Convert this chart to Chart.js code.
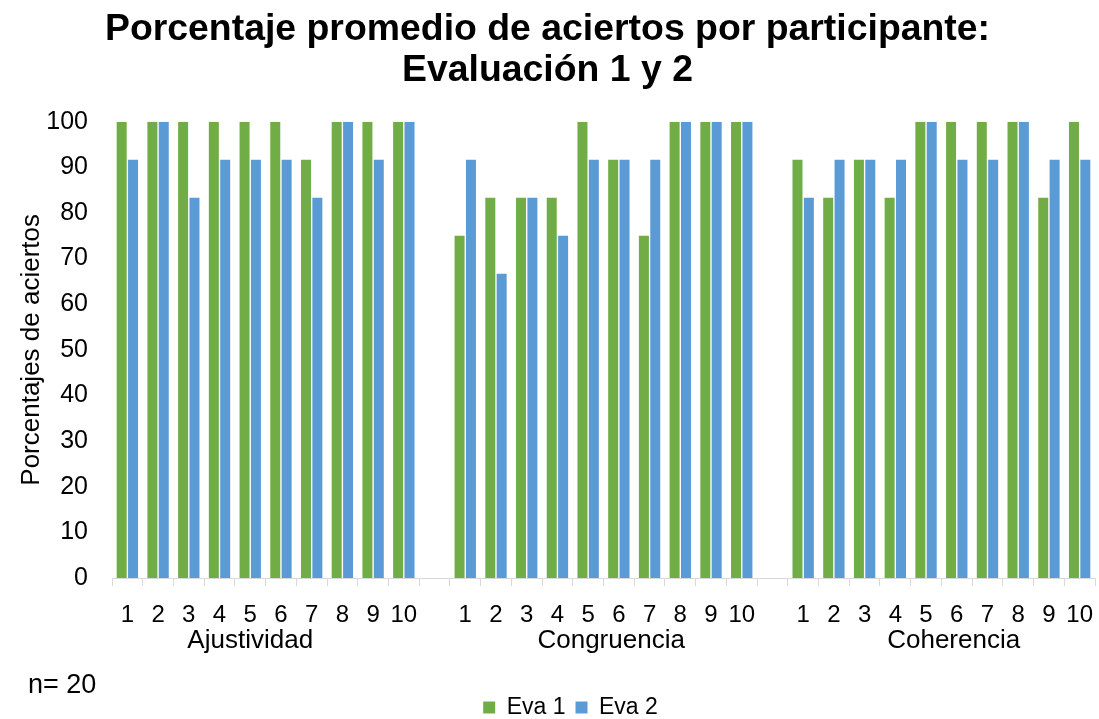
<!DOCTYPE html>
<html>
<head>
<meta charset="utf-8">
<script src="https://cdn.jsdelivr.net/npm/chart.js@4.4.0/dist/chart.umd.min.js"></script>
<style>
html,body{margin:0;padding:0;background:#fff;}
#wrap{width:1099px;height:719px;}
</style>
</head>
<body>
<div id="wrap"><canvas id="c" width="1099" height="719"></canvas></div>
<script>
// ---- data ----
const groups = ['Ajustividad', 'Congruencia', 'Coherencia'];
const participants = ['1', '2', '3', '4', '5', '6', '7', '8', '9', '10'];
const seriesNames = ['Eva 1', 'Eva 2'];
const ajustividadEva1 = [100, 100, 100, 100, 100, 100, 91.67, 100, 100, 100];
const ajustividadEva2 = [91.67, 100, 83.33, 91.67, 91.67, 91.67, 83.33, 100, 91.67, 100];
const congruenciaEva1 = [75, 83.33, 83.33, 83.33, 100, 91.67, 75, 100, 100, 100];
const congruenciaEva2 = [91.67, 66.67, 83.33, 75, 91.67, 91.67, 91.67, 100, 100, 100];
const coherenciaEva1 = [91.67, 83.33, 91.67, 83.33, 100, 100, 100, 100, 83.33, 100];
const coherenciaEva2 = [83.33, 91.67, 91.67, 91.67, 100, 91.67, 91.67, 100, 91.67, 91.67];
const yTicks = [0, 10, 20, 30, 40, 50, 60, 70, 80, 90, 100];
const titleLines = ['Porcentaje promedio de aciertos por participante:', 'Evaluación 1 y 2'];
const yTitle = 'Porcentajes de aciertos';
const note = 'n= 20';

// ---- build category table (blank category between groups) ----
const eva1Groups = [ajustividadEva1, congruenciaEva1, coherenciaEva1];
const eva2Groups = [ajustividadEva2, congruenciaEva2, coherenciaEva2];
const labels = [], eva1 = [], eva2 = [], groupRanges = [];
groups.forEach((g, gi) => {
  if (gi > 0) { labels.push(''); eva1.push(null); eva2.push(null); }
  const start = labels.length;
  participants.forEach((p, pi) => {
    labels.push(p);
    eva1.push(eva1Groups[gi][pi]);
    eva2.push(eva2Groups[gi][pi]);
  });
  groupRanges.push({ name: g, start: start, end: labels.length - 1 });
});

const F = "'Liberation Sans', Arial, sans-serif";
const GREEN = '#70ad47';
const BLUE = '#5b9bd5';
const AXIS = '#d9d9d9';
// shift of each group label from its span centre, in categories (as in the original layout)
const groupLabelShift = [-0.5, 0.25, 0.4];

const extrasPlugin = {
  id: 'extras',
  afterLayout(chart) {
    const lg = chart.legend;
    if (lg) { lg.left += 23; lg.right += 23; lg.top += 10; lg.bottom += 10; }
  },
  afterDraw(chart) {
    const ctx = chart.ctx;
    const xs = chart.scales.x;
    ctx.save();
    ctx.fillStyle = '#000';
    ctx.font = '26px ' + F;
    ctx.textAlign = 'center';
    ctx.textBaseline = 'middle';
    groupRanges.forEach((r, i) => {
      const mid = (r.start + r.end) / 2 + groupLabelShift[i];
      ctx.fillText(r.name, xs.getPixelForValue(mid), xs.top + 63);
    });
    ctx.font = '27px ' + F;
    ctx.textAlign = 'left';
    ctx.fillText(note, 28, 686);
    ctx.restore();
  }
};

new Chart(document.getElementById('c'), {
  type: 'bar',
  data: {
    labels: labels,
    datasets: [
      { label: seriesNames[0], data: eva1, backgroundColor: GREEN, borderWidth: 0,
        categoryPercentage: 0.74, barPercentage: 0.88 },
      { label: seriesNames[1], data: eva2, backgroundColor: BLUE, borderWidth: 0,
        categoryPercentage: 0.74, barPercentage: 0.88 }
    ]
  },
  options: {
    responsive: false,
    animation: false,
    devicePixelRatio: 1,
    layout: { padding: { left: 0, right: 4, top: 0, bottom: 0 } },
    plugins: {
      title: {
        display: true,
        text: titleLines,
        color: '#000',
        font: { family: F, size: 37.4, weight: 'bold', lineHeight: 1.096 },
        padding: { top: 9.5, bottom: 30.2 }
      },
      legend: {
        position: 'bottom',
        labels: {
          color: '#000',
          font: { family: F, size: 23 },
          boxWidth: 12,
          boxHeight: 12,
          padding: 10
        }
      },
      tooltip: { enabled: false }
    },
    scales: {
      x: {
        grid: { display: true, drawOnChartArea: false, drawTicks: true, tickLength: 8, color: AXIS, offset: true },
        border: { display: true, color: AXIS, width: 1 },
        ticks: { color: '#000', font: { family: F, size: 24 }, padding: 15, autoSkip: false, maxRotation: 0 },
        afterFit(s) { s.height = 98; s.paddingLeft = 0; s.paddingRight = 0; }
      },
      y: {
        min: 0,
        max: 100,
        afterBuildTicks(s) { s.ticks = yTicks.map(v => ({ value: v })); },
        grid: { display: false },
        border: { display: false },
        ticks: { color: '#000', font: { family: F, size: 25 }, padding: 16 },
        title: { display: true, text: yTitle, color: '#000', font: { family: F, size: 26 }, padding: { top: 16, bottom: 0 } },
        afterFit(s) { s.width = 112; }
      }
    }
  },
  plugins: [extrasPlugin]
});
</script>
</body>
</html>
